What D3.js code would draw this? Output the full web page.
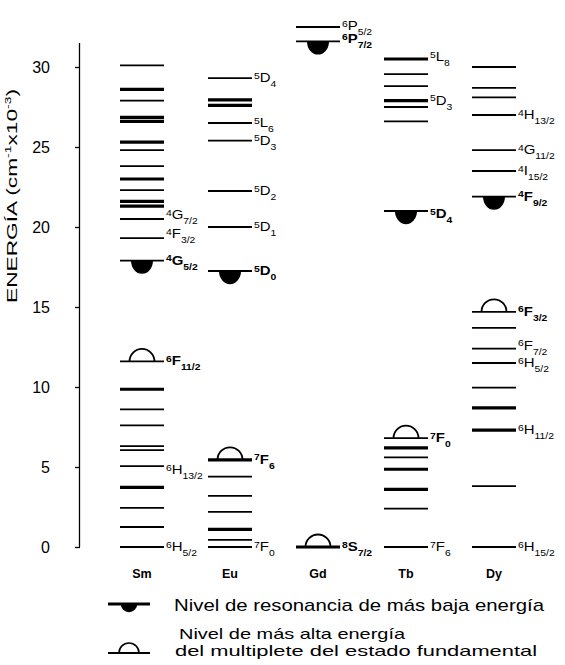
<!DOCTYPE html>
<html>
<head>
<meta charset="utf-8">
<script src="https://cdn.jsdelivr.net/npm/d3@7"></script>
<style>
  body { margin: 0; background: #fff; }
  text { font-family: "Liberation Sans", Arial, sans-serif; fill: #000; }
</style>
</head>
<body>
<div id="wrapper"></div>
<script>
// energy levels in cm-1 x 10^-3
const elements = ["Sm", "Eu", "Gd", "Tb", "Dy"];
const resonance = [17.9, 17.25, 31.6, 21.0, 21.9];   // filled marker
const groundTop = [11.6, 5.45, 0, 6.8, 14.7];        // open marker

const smThin  = [30.1, 27.9, 24.8, 23.8, 22.3, 20.5, 19.3, 17.9, 11.6, 8.6, 7.6, 6.3, 6.05, 5.06, 2.44, 1.25, 0];
const smThick = [28.6, 26.85, 26.6, 25.3, 23.0, 21.6, 21.3, 9.86, 3.73];
const euThin  = [29.3, 26.5, 25.4, 22.25, 20.0, 17.25, 4.4, 3.2, 2.2, 0.45, 0];
const euThick = [27.95, 27.6, 5.45, 1.1];
const gdThin  = [32.5, 31.6];
const gdThick = [0];
const tbThin  = [29.56, 28.8, 27.5, 26.6, 21.0, 6.8, 5.6, 2.4, 0];
const tbThick = [30.5, 27.9, 6.2, 4.86, 3.6];
const dyThin  = [30.0, 28.7, 28.1, 27.0, 24.8, 23.5, 21.9, 14.7, 13.7, 12.4, 11.5, 9.96, 3.8, 0];
const dyThick = [8.7, 7.3];

// [energy, multiplicity, term, J]
const smLabels = [[20.5, "4", "G", "7/2"], [19.3, "4", "F", "3/2"], [17.9, "4", "G", "5/2"], [11.6, "6", "F", "11/2"], [5.06, "6", "H", "13/2"], [0, "6", "H", "5/2"]];
const euLabels = [[29.3, "5", "D", "4"], [26.5, "5", "L", "6"], [25.4, "5", "D", "3"], [22.25, "5", "D", "2"], [20.0, "5", "D", "1"], [17.25, "5", "D", "0"], [5.45, "7", "F", "6"], [0, "7", "F", "0"]];
const gdLabels = [[32.5, "6", "P", "5/2"], [31.6, "6", "P", "7/2"], [0, "8", "S", "7/2"]];
const tbLabels = [[30.5, "5", "L", "8"], [27.9, "5", "D", "3"], [21.0, "5", "D", "4"], [6.8, "7", "F", "0"], [0, "7", "F", "6"]];
const dyLabels = [[27.0, "4", "H", "13/2"], [24.8, "4", "G", "11/2"], [23.5, "4", "I", "15/2"], [21.9, "4", "F", "9/2"], [14.7, "6", "F", "3/2"], [12.4, "6", "F", "7/2"], [11.5, "6", "H", "5/2"], [7.3, "6", "H", "11/2"], [0, "6", "H", "15/2"]];

const yTicks = [0, 5, 10, 15, 20, 25, 30];
const legendItems = [["Nivel de resonancia de más baja energía"], ["Nivel de más alta energía", "del multiplete del estado fundamental"]];

const thin = [smThin, euThin, gdThin, tbThin, dyThin];
const thick = [smThick, euThick, gdThick, tbThick, dyThick];
const labels = [smLabels, euLabels, gdLabels, tbLabels, dyLabels];

// a few labels sit off the default baseline to avoid crowding
const nudge = {"Sm4G7/2": -4, "Sm4F3/2": -4, "Sm6H13/2": 4, "Gd6P5/2": -1, "Gd6P7/2": -2, "Tb5L8": -2, "Tb5D4": 3, "Dy6F7/2": -3};

const W = 565, H = 665, sx = 1.15;
var svg = d3.select("#wrapper").append("svg").attr("width", W).attr("height", H);

var y = d3.scaleLinear().domain([0, 30]).range([547, 67]);
var x = d3.scaleBand().domain(elements).range([98, 538]).paddingInner(0.5).paddingOuter(0.25);

// axis
var yAxis = svg.append("g").attr("transform", "translate(80,0)")
  .call(d3.axisLeft(y).tickValues(yTicks).tickSize(5).tickPadding(25));
yAxis.select(".domain").attr("d", "M-0.5," + y(31.5) + "V" + y(0)).attr("stroke", "#000").attr("stroke-width", 1.3);
yAxis.selectAll(".tick line").attr("stroke", "#000").attr("stroke-width", 1.3);
yAxis.selectAll(".tick text").attr("font-size", 16).attr("font-family", "Liberation Sans, Arial, sans-serif")
  .attr("fill", "#000");

var title = svg.append("text").attr("transform", "translate(17,196) rotate(-90)")
  .attr("text-anchor", "middle").attr("font-size", 15.5)
  .attr("textLength", 214).attr("lengthAdjust", "spacingAndGlyphs");
title.append("tspan").text("ENERGÍA (cm");
title.append("tspan").attr("font-size", 9.5).attr("dy", -6).text("-1");
title.append("tspan").attr("dy", 6).text("x10");
title.append("tspan").attr("font-size", 9.5).attr("dy", -6).text("-3");
title.append("tspan").attr("dy", 6).text(")");

var filledArc = d3.arc().innerRadius(0).outerRadius(11).startAngle(Math.PI / 2).endAngle(3 * Math.PI / 2);
var openArc = d3.arc().innerRadius(12.5).outerRadius(12.5).startAngle(-Math.PI / 2).endAngle(Math.PI / 2);

elements.forEach(function(el, i) {
  var g = svg.append("g");
  var x0 = x(el), x1 = x(el) + x.bandwidth(), cx = x0 + x.bandwidth() / 2;

  g.selectAll(".thin").data(thin[i]).enter().append("line")
    .attr("x1", x0).attr("x2", x1).attr("y1", d => y(d)).attr("y2", d => y(d))
    .attr("stroke", "#000").attr("stroke-width", 1.8);
  g.selectAll(".thick").data(thick[i]).enter().append("line")
    .attr("x1", x0).attr("x2", x1).attr("y1", d => y(d)).attr("y2", d => y(d))
    .attr("stroke", "#000").attr("stroke-width", 3.2);

  g.append("path").attr("d", filledArc())
    .attr("transform", "translate(" + cx + "," + y(resonance[i]) + ") scale(1,1.2)").attr("fill", "#000");
  g.append("path").attr("d", openArc())
    .attr("transform", "translate(" + cx + "," + y(groundTop[i]) + ")")
    .attr("fill", "none").attr("stroke", "#000").attr("stroke-width", 1.8);

  labels[i].forEach(function(l) {
    var bold = (l[0] === resonance[i] || l[0] === groundTop[i]) ? "bold" : "normal";
    var dy = 4 + (nudge[el + l[1] + l[2] + l[3]] || 0);
    var t = g.append("text").attr("transform", "translate(" + (x1 + 2) + "," + (y(l[0]) + dy) + ") scale(" + sx + ",1)")
      .attr("font-weight", bold).attr("font-size", 13);
    t.append("tspan").attr("font-size", 9).attr("dy", -3.5).text(l[1]);
    t.append("tspan").attr("dy", 3.5).text(l[2]);
    t.append("tspan").attr("font-size", 9).attr("dy", 5).text(l[3]);
  });

  g.append("text").attr("x", cx).attr("y", 578).attr("text-anchor", "middle")
    .attr("font-weight", "bold").attr("font-size", 12.5).text(el);
});

// legend
var lg1 = svg.append("g").attr("transform", "translate(108,604)");
lg1.append("line").attr("x1", 0).attr("x2", 42).attr("stroke", "#000").attr("stroke-width", 3);
lg1.append("path").attr("d", filledArc()).attr("transform", "translate(21,0) scale(0.75,0.75)").attr("fill", "#000");
svg.append("text").attr("x", 174).attr("y", 611).attr("font-size", 17)
  .attr("textLength", 370).attr("lengthAdjust", "spacingAndGlyphs").text(legendItems[0][0]);

var lg2 = svg.append("g").attr("transform", "translate(108,653)");
lg2.append("line").attr("x1", 0).attr("x2", 42).attr("stroke", "#000").attr("stroke-width", 2);
lg2.append("path").attr("d", openArc()).attr("transform", "translate(21,0) scale(0.8)")
  .attr("fill", "none").attr("stroke", "#000").attr("stroke-width", 2);
svg.append("text").attr("x", 179).attr("y", 639).attr("font-size", 14.5)
  .attr("textLength", 226).attr("lengthAdjust", "spacingAndGlyphs").text(legendItems[1][0]);
svg.append("text").attr("x", 175).attr("y", 656).attr("font-size", 14.5)
  .attr("textLength", 362).attr("lengthAdjust", "spacingAndGlyphs").text(legendItems[1][1]);
</script>
</body>
</html>
